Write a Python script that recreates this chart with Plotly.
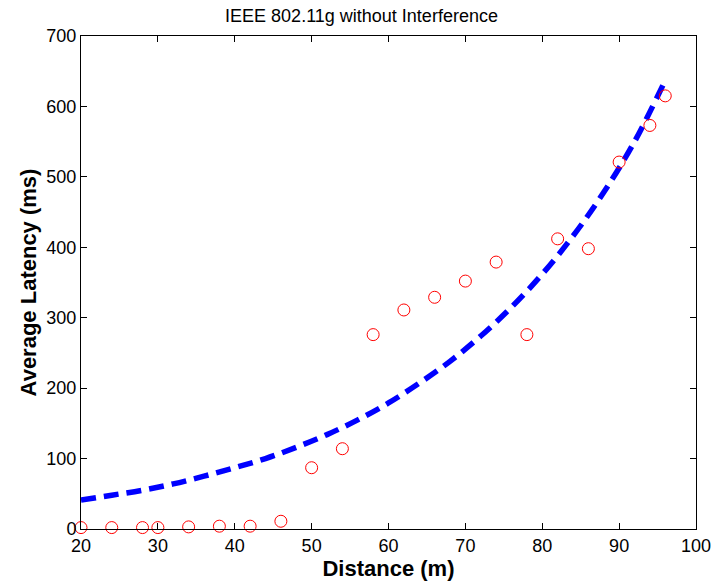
import plotly.graph_objects as go

distance = [20, 24, 28, 30, 34, 38, 42, 46, 50, 54, 58, 62, 66, 70, 74, 78, 82, 86, 90, 94, 96]
latency = [2, 2, 2, 2, 3, 4, 4, 11, 87, 114, 276, 311, 329, 352, 379, 276, 412, 398, 521, 573, 615]

fit_x = [20, 24, 28, 32, 36, 40, 44, 48, 52, 56, 60, 64, 68, 72, 76, 80, 84, 88, 92, 96]
fit_y = [41, 48, 55, 64, 75, 87, 100, 116, 134, 155, 179, 207, 238, 274, 315, 362, 416, 478, 550, 637]

x_ticks = [20, 30, 40, 50, 60, 70, 80, 90, 100]
y_ticks = [0, 100, 200, 300, 400, 500, 600, 700]

fig = go.Figure()
fig.add_trace(go.Scatter(x=fit_x, y=fit_y, mode="lines", line=dict(color="#0000ff", width=5.5, dash="15px,8px", shape="spline"), showlegend=False))
fig.add_trace(go.Scatter(x=distance, y=latency, mode="markers", marker=dict(symbol="circle-open", size=12, color="#ff0000", line=dict(width=1)), showlegend=False, cliponaxis=False))

font = "Liberation Sans, Arial, sans-serif"
fig.update_layout(
    width=723, height=586,
    margin=dict(l=81, r=17, t=36, b=57),
    paper_bgcolor="white", plot_bgcolor="white",
    font=dict(family=font, color="black"),
    title=dict(text="IEEE 802.11g without Interference", x=0.5, xanchor="center", y=0.9735, yanchor="middle", font=dict(size=18, family=font)),
)
fig.update_xaxes(range=[20, 100], tickvals=x_ticks, ticks="inside", ticklen=6, tickcolor="black", showline=True, linecolor="black", linewidth=1, mirror="ticks", showgrid=False, zeroline=False, tickfont=dict(size=18), title=dict(text="<b>Distance (m)</b>", font=dict(size=22), standoff=2))
fig.update_yaxes(range=[0, 700], tickvals=y_ticks, ticks="inside", ticklen=6, tickcolor="black", showline=True, linecolor="black", linewidth=1, mirror="ticks", showgrid=False, zeroline=False, tickfont=dict(size=18), title=dict(text="<b>Average Latency (ms)</b>", font=dict(size=22), standoff=3))

fig.write_html("out.html")
